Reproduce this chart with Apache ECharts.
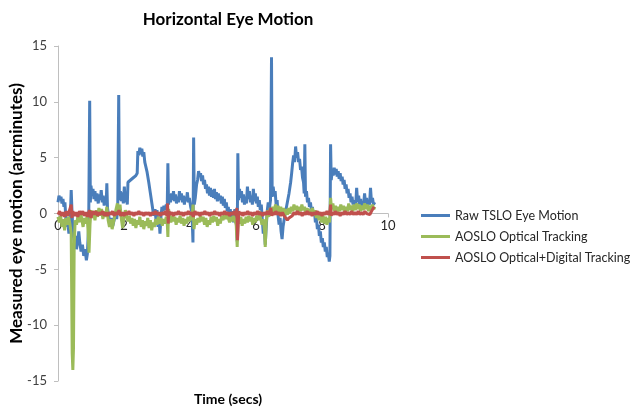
<!DOCTYPE html>
<html>
<head>
<meta charset="utf-8">
<title>Horizontal Eye Motion</title>
<script src="https://cdn.jsdelivr.net/npm/echarts@6/dist/echarts.min.js"></script>
<style>
    html, body { margin: 0; padding: 0; background: #fff; }
    #main { width: 633px; height: 414px; }
</style>
</head>
<body>
<div id="main"></div>
<script>
// [time (secs), motion (arcminutes)]
var rawTslo = [
    [0.00,1.0],[0.03,1.6],[0.06,1.2],[0.09,1.5],[0.12,0.9],[0.15,1.3],[0.18,0.6],[0.21,1.0],[0.24,-0.5],[0.27,-1.2],
    [0.30,-0.8],[0.33,-1.8],[0.36,-1.0],[0.38,0.2],[0.40,2.1],[0.42,0.5],[0.45,-1.5],[0.50,-2.8],[0.53,-2.0],[0.56,-3.2],
    [0.60,-2.4],[0.63,-1.6],[0.66,-2.6],[0.70,-3.4],[0.74,-2.8],[0.78,-3.8],[0.82,-3.2],[0.86,-4.2],[0.89,-3.6],[0.93,-1.0],
    [0.96,10.1],[0.98,1.0],[1.00,2.5],[1.03,1.6],[1.06,2.2],[1.09,1.3],[1.12,2.0],[1.15,1.1],[1.18,1.8],[1.22,0.9],
    [1.25,1.7],[1.28,1.2],[1.31,2.1],[1.34,1.0],[1.37,1.6],[1.40,0.7],[1.43,1.4],[1.46,0.8],[1.48,2.7],[1.50,0.5],
    [1.54,-0.3],[1.58,-0.8],[1.62,-0.4],[1.66,-1.1],[1.70,-0.6],[1.74,0.2],[1.78,-0.5],[1.81,0.5],[1.84,10.6],[1.86,1.2],
    [1.89,2.0],[1.92,1.1],[1.95,1.9],[1.98,0.9],[2.01,2.4],[2.04,1.0],[2.07,1.6],[2.10,0.8],[2.12,2.8],[2.20,3.0],
    [2.28,3.2],[2.36,3.4],[2.40,3.6],[2.42,5.6],[2.45,5.2],[2.48,5.9],[2.51,5.3],[2.54,5.8],[2.57,5.1],[2.60,5.5],
    [2.63,4.6],[2.70,3.7],[2.75,2.8],[2.80,1.8],[2.85,0.8],[2.90,-0.2],[2.94,0.4],[2.97,-0.6],[3.00,0.3],[3.03,-1.2],
    [3.06,-0.4],[3.09,-1.8],[3.12,-0.3],[3.15,0.6],[3.18,0.2],[3.21,0.7],[3.25,0.3],[3.28,0.8],[3.31,0.5],[3.33,4.5],
    [3.35,0.8],[3.38,1.6],[3.41,1.0],[3.44,1.8],[3.47,1.2],[3.50,2.0],[3.53,1.1],[3.56,1.7],[3.59,0.9],[3.62,1.5],
    [3.65,1.0],[3.68,2.0],[3.71,1.2],[3.74,1.8],[3.77,1.0],[3.80,1.6],[3.83,0.8],[3.86,1.5],[3.89,1.1],[3.92,1.9],
    [3.95,1.0],[3.98,1.4],[4.02,0.6],[4.06,0.1],[4.09,-2.6],[4.11,6.8],[4.13,0.8],[4.16,1.4],[4.20,2.6],[4.23,3.0],
    [4.26,3.8],[4.29,3.3],[4.32,3.6],[4.35,2.9],[4.38,3.4],[4.41,2.6],[4.44,3.0],[4.47,2.2],[4.50,2.6],[4.53,1.8],
    [4.56,2.4],[4.59,1.6],[4.62,2.3],[4.65,1.5],[4.68,2.1],[4.71,1.4],[4.74,2.2],[4.77,1.3],[4.80,1.9],[4.83,1.1],
    [4.86,1.8],[4.89,1.2],[4.92,1.6],[4.95,0.9],[4.98,1.5],[5.01,0.7],[5.04,1.3],[5.07,0.5],[5.10,1.0],[5.13,0.2],
    [5.16,0.6],[5.19,-0.3],[5.22,0.4],[5.25,-0.6],[5.28,0.2],[5.32,-0.8],[5.36,0.4],[5.40,-0.6],[5.43,-2.5],[5.45,5.4],
    [5.47,1.2],[5.50,2.2],[5.53,1.4],[5.56,2.0],[5.59,1.0],[5.62,1.7],[5.65,0.8],[5.68,1.5],[5.71,0.9],[5.74,2.4],
    [5.77,1.3],[5.80,2.0],[5.83,1.0],[5.86,1.6],[5.89,0.8],[5.92,2.2],[5.95,1.1],[5.98,1.8],[6.01,0.9],[6.04,1.5],
    [6.07,0.6],[6.10,1.2],[6.13,0.3],[6.16,0.8],[6.19,-0.5],[6.22,-1.8],[6.25,-1.0],[6.28,-2.8],[6.31,-1.2],[6.34,0.2],
    [6.37,1.0],[6.40,0.3],[6.44,1.2],[6.47,14.0],[6.49,1.5],[6.52,2.4],[6.55,1.6],[6.58,2.0],[6.61,0.8],[6.64,1.2],
    [6.67,-0.2],[6.70,-1.0],[6.73,-0.4],[6.76,-1.6],[6.79,-2.3],[6.82,-1.2],[6.85,-0.6],[6.90,0.2],[6.95,1.0],[7.00,1.8],
    [7.05,2.8],[7.08,3.6],[7.11,4.5],[7.14,5.2],[7.17,4.6],[7.20,6.0],[7.23,5.0],[7.26,5.5],[7.29,4.6],[7.32,4.9],
    [7.35,3.9],[7.38,4.2],[7.41,3.2],[7.44,2.8],[7.46,1.8],[7.48,6.2],[7.50,1.5],[7.53,2.0],[7.56,1.0],[7.59,1.4],
    [7.62,0.6],[7.65,1.0],[7.68,0.2],[7.71,0.6],[7.74,-0.2],[7.77,0.3],[7.80,-0.8],[7.83,-0.4],[7.86,-1.4],[7.89,-1.0],
    [7.92,-2.0],[7.95,-1.6],[7.98,-2.6],[8.01,-2.2],[8.04,-3.0],[8.07,-2.6],[8.10,-3.4],[8.13,-3.0],[8.16,-3.9],[8.19,-3.5],
    [8.22,-4.3],[8.24,-3.8],[8.26,6.2],[8.28,3.0],[8.31,3.8],[8.34,3.4],[8.37,4.1],[8.40,3.5],[8.43,4.0],[8.46,3.3],
    [8.49,3.8],[8.52,3.1],[8.55,3.6],[8.58,2.9],[8.61,3.3],[8.64,2.6],[8.67,3.0],[8.70,2.2],[8.73,2.6],[8.76,1.8],
    [8.79,2.2],[8.82,1.4],[8.85,1.8],[8.88,1.0],[8.91,1.5],[8.94,0.8],[8.97,1.2],[9.00,0.6],[9.03,1.2],[9.05,2.3],
    [9.08,1.0],[9.11,1.6],[9.14,0.8],[9.17,1.3],[9.20,0.5],[9.23,1.1],[9.26,0.7],[9.29,1.8],[9.32,0.9],[9.35,1.4],
    [9.38,0.6],[9.41,1.2],[9.44,0.8],[9.47,2.3],[9.50,1.0],[9.53,1.4],[9.56,0.8],[9.60,1.0]
];
var opticalTracking = [
    [0.00,-0.3],[0.04,-0.8],[0.08,-0.2],[0.12,-1.2],[0.16,-0.5],[0.20,-1.5],[0.24,-0.4],[0.28,-1.0],[0.32,-0.3],[0.36,-0.9],
    [0.40,-1.8],[0.43,-12.5],[0.45,-14.0],[0.47,-12.0],[0.49,-3.0],[0.52,-0.6],[0.56,-1.0],[0.60,-0.3],[0.64,-0.8],[0.68,0.2],
    [0.72,-0.5],[0.76,-1.2],[0.80,-0.4],[0.84,-0.9],[0.88,-0.2],[0.91,-1.5],[0.94,-3.5],[0.97,-1.0],[1.00,0.3],[1.04,-0.4],
    [1.08,0.1],[1.12,-0.6],[1.16,0.3],[1.20,-0.3],[1.24,0.5],[1.28,-0.2],[1.32,0.4],[1.36,-0.5],[1.40,0.2],[1.44,-0.3],
    [1.48,0.6],[1.52,-0.6],[1.56,-1.2],[1.60,-0.5],[1.64,-1.4],[1.68,-0.8],[1.72,-0.2],[1.76,0.4],[1.80,0.9],[1.84,0.3],
    [1.88,0.8],[1.92,-0.5],[1.96,-1.3],[2.00,-0.4],[2.04,0.3],[2.08,-0.2],[2.12,-0.7],[2.16,-0.2],[2.20,-0.9],[2.24,-0.4],
    [2.28,-1.1],[2.32,-0.5],[2.36,-1.3],[2.40,-0.6],[2.44,-1.0],[2.48,-0.3],[2.52,-1.2],[2.56,-0.6],[2.60,-1.4],[2.64,-0.7],
    [2.68,-1.1],[2.72,-0.4],[2.76,-1.3],[2.80,-0.6],[2.84,-1.5],[2.88,-0.8],[2.92,-1.2],[2.96,-0.5],[3.00,-1.0],[3.04,-0.3],
    [3.08,-0.9],[3.12,-0.4],[3.16,-1.1],[3.20,-0.5],[3.24,-0.9],[3.28,-0.3],[3.31,-0.8],[3.33,-2.1],[3.35,0.4],[3.38,-0.3],
    [3.42,-0.8],[3.46,-0.2],[3.50,-0.7],[3.54,-0.3],[3.58,-1.0],[3.62,-0.4],[3.66,-0.8],[3.70,-0.2],[3.74,-0.9],[3.78,-0.4],
    [3.82,-1.1],[3.86,-0.5],[3.90,-0.9],[3.94,-0.3],[3.98,-0.7],[4.02,-0.2],[4.06,-0.6],[4.09,0.8],[4.12,-1.4],[4.16,-0.5],
    [4.20,-1.0],[4.24,-0.4],[4.28,-0.8],[4.32,-0.2],[4.36,-0.7],[4.40,-0.3],[4.44,-1.0],[4.48,-0.4],[4.52,-1.2],[4.56,-0.6],
    [4.60,-1.0],[4.64,-0.3],[4.68,-0.8],[4.72,-0.2],[4.76,-0.7],[4.80,-0.3],[4.84,-1.1],[4.88,-0.5],[4.92,-0.9],[4.96,-0.2],
    [5.00,-0.6],[5.04,-0.1],[5.08,-0.5],[5.12,0.1],[5.16,-0.4],[5.20,-0.8],[5.24,-0.3],[5.28,-0.7],[5.32,-0.2],[5.36,-0.6],
    [5.40,-1.0],[5.43,-3.0],[5.46,-0.4],[5.50,-0.9],[5.54,-0.3],[5.58,-1.1],[5.62,-0.5],[5.66,-0.9],[5.70,-0.3],[5.74,-0.8],
    [5.78,-0.2],[5.82,-0.7],[5.86,-0.3],[5.90,-1.0],[5.94,-0.4],[5.98,-0.8],[6.02,-0.2],[6.06,-0.6],[6.10,0.2],[6.14,-0.4],
    [6.18,-1.0],[6.22,-0.5],[6.26,-1.6],[6.28,-3.0],[6.31,-0.8],[6.35,0.3],[6.39,-0.3],[6.43,0.5],[6.47,-0.2],[6.51,0.6],
    [6.55,0.1],[6.59,0.8],[6.63,0.2],[6.67,0.7],[6.71,0.1],[6.75,0.6],[6.79,0.0],[6.83,0.5],[6.87,-0.2],[6.91,0.4],
    [6.95,-0.1],[6.99,0.5],[7.03,0.0],[7.07,0.6],[7.11,0.2],[7.15,0.8],[7.19,0.3],[7.23,0.7],[7.27,0.1],[7.31,0.6],
    [7.35,0.2],[7.39,0.8],[7.43,0.3],[7.47,0.6],[7.51,0.1],[7.55,0.5],[7.59,-0.1],[7.63,0.4],[7.67,0.0],[7.71,0.5],
    [7.75,-0.2],[7.79,0.3],[7.83,-0.4],[7.87,0.2],[7.91,-0.6],[7.95,0.1],[7.99,-0.8],[8.03,-0.2],[8.07,-0.9],[8.11,-0.3],
    [8.15,-1.0],[8.19,-0.4],[8.23,-0.8],[8.26,1.4],[8.29,0.4],[8.33,0.9],[8.37,0.2],[8.41,0.7],[8.45,0.1],[8.49,0.6],
    [8.53,0.2],[8.57,0.8],[8.61,0.3],[8.65,0.7],[8.69,0.1],[8.73,0.6],[8.77,0.2],[8.81,0.9],[8.85,0.3],[8.89,0.7],
    [8.93,0.2],[8.97,0.8],[9.01,0.3],[9.05,0.9],[9.09,0.4],[9.13,0.8],[9.17,0.2],[9.21,0.7],[9.25,0.3],[9.29,0.9],
    [9.33,0.4],[9.37,0.8],[9.41,0.2],[9.45,0.7],[9.49,0.3],[9.53,0.8],[9.57,0.4],[9.60,0.6]
];
var opticalDigital = [
    [0.00,-0.1],[0.05,0.2],[0.10,-0.2],[0.15,0.1],[0.20,-0.3],[0.25,0.2],[0.30,-0.2],[0.35,0.3],[0.40,0.8],[0.42,-0.4],
    [0.45,0.2],[0.50,-0.2],[0.55,0.1],[0.60,-0.3],[0.65,0.2],[0.70,-0.1],[0.75,0.2],[0.80,-0.2],[0.85,0.1],[0.90,-0.3],
    [0.95,0.3],[1.00,-0.4],[1.05,0.2],[1.10,-0.1],[1.15,0.2],[1.20,-0.2],[1.25,0.1],[1.30,-0.1],[1.35,0.2],[1.40,-0.2],
    [1.45,0.1],[1.50,-0.2],[1.55,0.1],[1.60,-0.1],[1.65,0.2],[1.70,-0.2],[1.75,0.1],[1.80,-0.1],[1.85,0.3],[1.90,-0.2],
    [1.95,0.1],[2.00,-0.2],[2.05,0.1],[2.10,-0.1],[2.15,0.2],[2.20,-0.1],[2.25,0.1],[2.30,-0.2],[2.35,0.1],[2.40,-0.1],
    [2.45,0.2],[2.50,-0.1],[2.55,0.1],[2.60,-0.2],[2.65,0.1],[2.70,-0.1],[2.75,0.1],[2.80,-0.2],[2.85,0.1],[2.90,-0.1],
    [2.95,0.2],[3.00,-0.1],[3.05,0.1],[3.10,-0.2],[3.15,0.1],[3.20,-0.1],[3.25,0.2],[3.30,-0.2],[3.32,0.9],[3.34,-0.9],
    [3.36,0.2],[3.40,-0.1],[3.45,0.1],[3.50,-0.2],[3.55,0.1],[3.60,-0.1],[3.65,0.2],[3.70,-0.1],[3.75,0.1],[3.80,-0.2],
    [3.85,0.1],[3.90,-0.1],[3.95,0.2],[4.00,-0.1],[4.05,0.1],[4.10,-0.3],[4.15,0.2],[4.20,-0.1],[4.25,0.1],[4.30,-0.2],
    [4.35,0.1],[4.40,-0.1],[4.45,0.2],[4.50,-0.1],[4.55,0.1],[4.60,-0.2],[4.65,0.1],[4.70,-0.1],[4.75,0.2],[4.80,-0.1],
    [4.85,0.1],[4.90,-0.2],[4.95,0.1],[5.00,-0.1],[5.05,0.2],[5.10,-0.1],[5.15,0.1],[5.20,-0.2],[5.25,0.1],[5.30,-0.1],
    [5.35,0.2],[5.40,-0.2],[5.42,0.5],[5.44,-2.4],[5.46,-1.0],[5.48,0.2],[5.52,-0.1],[5.56,0.1],[5.60,-0.2],[5.65,0.1],
    [5.70,-0.1],[5.75,0.2],[5.80,-0.1],[5.85,0.1],[5.90,-0.2],[5.95,0.1],[6.00,-0.1],[6.05,0.2],[6.10,-0.1],[6.15,0.1],
    [6.20,-0.2],[6.25,0.1],[6.30,-0.1],[6.35,0.2],[6.40,-0.1],[6.45,0.5],[6.48,-0.2],[6.52,0.1],[6.56,-0.1],[6.60,0.2],
    [6.65,-0.1],[6.70,0.1],[6.75,-0.2],[6.80,0.1],[6.85,-0.2],[6.90,-0.4],[6.95,-0.6],[7.00,-0.4],[7.05,-0.5],[7.10,-0.2],
    [7.15,0.1],[7.20,-0.1],[7.25,0.2],[7.30,-0.1],[7.35,0.1],[7.40,-0.2],[7.45,0.1],[7.50,-0.1],[7.55,0.2],[7.60,-0.1],
    [7.65,0.1],[7.70,-0.2],[7.75,0.1],[7.80,-0.1],[7.85,0.2],[7.90,-0.1],[7.95,0.1],[8.00,-0.2],[8.05,0.1],[8.10,-0.1],
    [8.15,0.2],[8.20,-0.1],[8.24,0.1],[8.26,0.8],[8.28,-0.2],[8.32,0.1],[8.36,-0.1],[8.40,0.2],[8.45,-0.1],[8.50,0.1],
    [8.55,-0.2],[8.60,0.1],[8.65,-0.1],[8.70,0.2],[8.75,-0.1],[8.80,0.1],[8.85,-0.1],[8.90,0.2],[8.95,-0.1],[9.00,0.1],
    [9.05,-0.1],[9.10,0.2],[9.15,-0.1],[9.20,0.1],[9.25,-0.1],[9.30,0.2],[9.35,0.0],[9.40,0.1],[9.45,-0.1],[9.50,0.2],
    [9.55,0.1],[9.58,0.6]
];
var seriesNames = ['Raw TSLO Eye Motion', 'AOSLO Optical Tracking', 'AOSLO Optical+Digital Tracking'];
var seriesColors = ['#4A7EBB', '#9BBB59', '#C0504D'];

var myChart = echarts.init(document.getElementById('main'));
var font = 'Lato, "Open Sans", sans-serif';
var option = {
    animation: false,
    textStyle: { fontFamily: font },
    title: [{
        text: 'Horizontal Eye Motion',
        left: 223,
        top: 6,
        textAlign: 'center',
        textStyle: { fontFamily: font, fontSize: 17, fontWeight: 'bold', color: '#000' }
    }, {
        text: 'Time (secs)',
        left: 223,
        top: 387,
        textAlign: 'center',
        textStyle: { fontFamily: font, fontSize: 14, fontWeight: 'bold', color: '#000' }
    }],
    legend: {
        orient: 'vertical',
        left: 416,
        top: 204,
        itemGap: 8,
        itemWidth: 29,
        itemHeight: 3,
        icon: 'rect',
        data: seriesNames,
        textStyle: { fontFamily: font, fontSize: 12.5, color: '#262626' }
    },
    grid: {
        left: 58,
        top: 46,
        width: 330,
        height: 335,
        outerBoundsMode: 'none'
    },
    xAxis: {
        type: 'value',
        min: 0,
        max: 10,
        interval: 2,
        // axis crosses the y axis at 0
        offset: -167.5,
        axisLine: { onZero: false, lineStyle: { color: '#BFBFBF', width: 1 } },
        axisTick: { show: true, length: 4, lineStyle: { color: '#BFBFBF' } },
        axisLabel: { fontSize: 13, color: '#262626', margin: 6 },
        splitLine: { show: false }
    },
    yAxis: {
        type: 'value',
        min: -15,
        max: 15,
        interval: 5,
        name: 'Measured eye motion (arcminutes)',
        nameLocation: 'middle',
        nameGap: 33,
        nameMoveOverlap: false,
        nameTextStyle: { fontFamily: font, fontSize: 17, fontWeight: 'bold', color: '#000' },
        axisLine: { show: true, onZero: false, lineStyle: { color: '#BFBFBF', width: 1 } },
        axisTick: { show: true, length: 4, lineStyle: { color: '#BFBFBF' } },
        axisLabel: { fontSize: 13, color: '#404040', margin: 11 },
        splitLine: { show: false }
    },
    series: [{
        name: seriesNames[0],
        type: 'line',
        data: rawTslo,
        showSymbol: false,
        color: seriesColors[0],
        lineStyle: { width: 3 }
    }, {
        name: seriesNames[1],
        type: 'line',
        data: opticalTracking,
        showSymbol: false,
        color: seriesColors[1],
        lineStyle: { width: 3 }
    }, {
        name: seriesNames[2],
        type: 'line',
        data: opticalDigital,
        showSymbol: false,
        color: seriesColors[2],
        lineStyle: { width: 3 }
    }]
};
myChart.setOption(option);
</script>
</body>
</html>
